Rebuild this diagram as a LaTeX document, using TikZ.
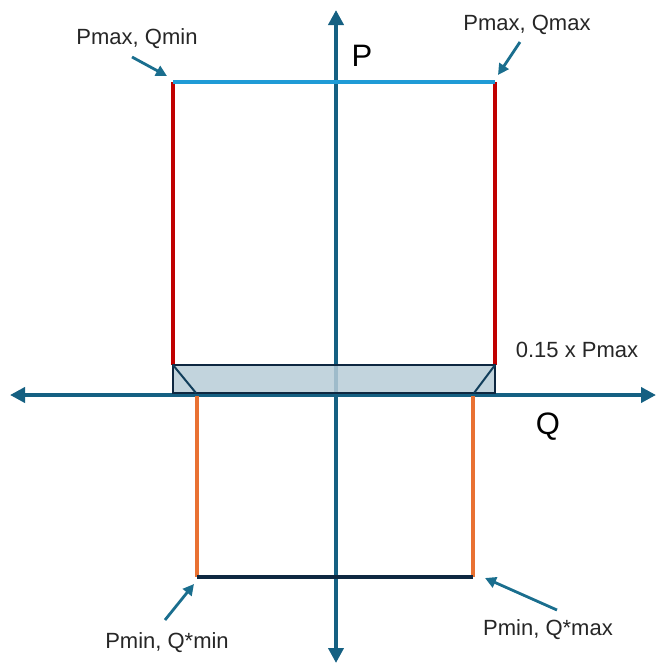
\documentclass[tikz,border=0pt]{standalone}
\usepackage{fontspec}
\setmainfont{Liberation Sans}
\usetikzlibrary{arrows.meta}
\definecolor{axisblue}{HTML}{156082}
\definecolor{topblue}{HTML}{1F9BD6}
\definecolor{redline}{HTML}{C00000}
\definecolor{orangeline}{HTML}{E97132}
\definecolor{navy}{HTML}{0E2841}
\definecolor{rectfill}{HTML}{B7CCD7}
\definecolor{annot}{HTML}{1A6E8E}
\tikzset{
  axis/.style={draw=axisblue, line width=4.5pt, -{Triangle[length=15pt,width=15pt]}},
  lbl/.style={font=\fontsize{22}{26}\selectfont, text=black!85, inner sep=0pt},
  biglbl/.style={font=\fontsize{31}{34}\selectfont, text=black, inner sep=0pt},
  pointer/.style={draw=annot, line width=2.8pt, -{Triangle[length=11pt,width=11pt]}},
  seg/.style={line width=4.2pt, line cap=butt}
}
\begin{document}
\begin{tikzpicture}[x=1pt,y=-1pt]
\useasboundingbox (0,0) rectangle (658,665);
% axes
\coordinate (origin) at (336,395);
\coordinate (xl) at (10,395);
\coordinate (xr) at (656,395);
\coordinate (yt) at (336,10);
\coordinate (yb) at (336,663);
\draw[axis] (origin) -- (xl);
\draw[axis] (origin) -- (xr);
\draw[axis] (origin) -- (yt);
\draw[axis] (origin) -- (yb);
% corners
\coordinate (tl) at (173,82);
\coordinate (tr) at (495,82);
\coordinate (rtl) at (173,365);
\coordinate (rtr) at (495,365);
\coordinate (rbl) at (173,393);
\coordinate (rbr) at (495,393);
\coordinate (dl) at (196,393);
\coordinate (dr) at (474,393);
\coordinate (ol) at (197,396);
\coordinate (or) at (473,396);
\coordinate (bl) at (197,577);
\coordinate (br) at (473,577);
% red and blue
\draw[seg, draw=redline] (tl) -- (rtl);
\draw[seg, draw=redline] (tr) -- (rtr);
\draw[seg, draw=topblue] (tl) -- (tr);
% band
\fill[rectfill, opacity=0.85] (rtl) rectangle (rbr);
\draw[navy, line width=2.4pt] (rtl) rectangle (rbr);
\draw[navy!60!axisblue, line width=2pt] (rtl) -- (dl);
\draw[navy!60!axisblue, line width=2pt] (rtr) -- (dr);
% orange and navy
\draw[seg, draw=orangeline] (ol) -- (bl);
\draw[seg, draw=orangeline] (or) -- (br);
\draw[seg, draw=navy] (bl) -- (br);
% labels
\node[biglbl] (P) at (362,56) {P};
\node[biglbl] (Q) at (548,427) {Q};
\node[lbl] (band) at (577,350) {0.15 x Pmax};
\node[lbl] (l1) at (137,39) {Pmax, Qmin};
\node[lbl] (l2) at (527,25) {Pmax, Qmax};
\node[lbl] (l3) at (167,643) {Pmin, Q*min};
\node[lbl] (l4) at (548,630) {Pmin, Q*max};
% pointers
\coordinate (a1s) at (132,57);
\coordinate (a1e) at (167,76);
\coordinate (a2s) at (520,42);
\coordinate (a2e) at (498,75);
\coordinate (a3s) at (165,620);
\coordinate (a3e) at (194,584);
\coordinate (a4s) at (557,610);
\coordinate (a4e) at (485,578);
\draw[pointer] (a1s) -- (a1e);
\draw[pointer] (a2s) -- (a2e);
\draw[pointer] (a3s) -- (a3e);
\draw[pointer] (a4s) -- (a4e);
\end{tikzpicture}
\end{document}
